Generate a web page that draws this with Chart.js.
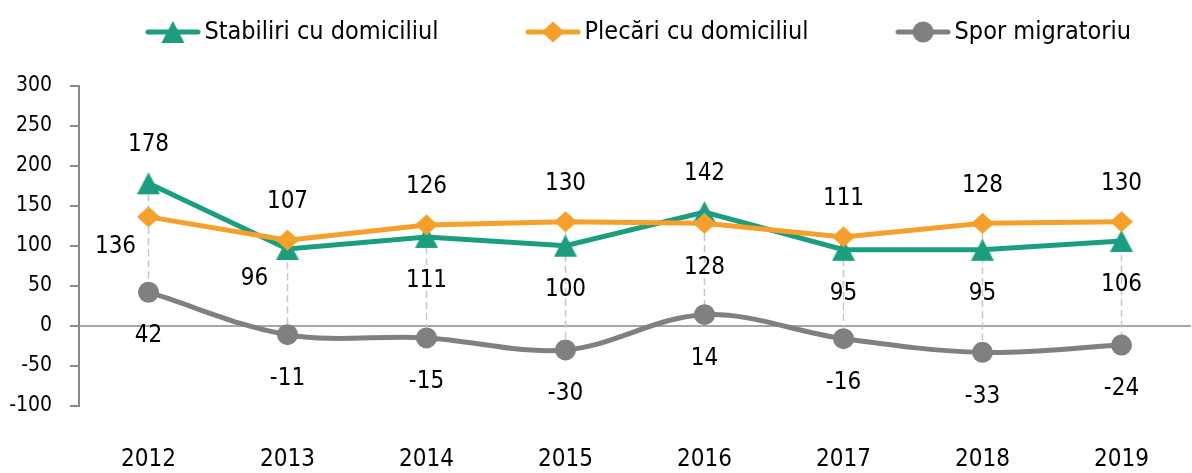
<!DOCTYPE html>
<html lang="ro">
<head>
<meta charset="UTF-8">
<title>Migrația cu domiciliul</title>
<style>
  html, body { margin: 0; padding: 0; background: #fff; overflow: hidden; }
  .wrap { width: 1203px; height: 473px; }
</style>
</head>
<body>
<div class="wrap"><canvas id="chart" width="1203" height="473"></canvas></div>
<script src="https://cdn.jsdelivr.net/npm/chart.js"></script>
<script>
// values
const years = ['2012', '2013', '2014', '2015', '2016', '2017', '2018', '2019'];
const stabiliri = [178, 96, 111, 100, 142, 95, 95, 106];
const plecari = [136, 107, 126, 130, 128, 111, 128, 130];
const spor = [42, -11, -15, -30, 14, -16, -33, -24];
const yMin = -100, yMax = 300, yStep = 50;

// where each value label sits relative to its point
const placeStabiliri = ['up', 'downLeft', 'down', 'down', 'up', 'down', 'down', 'down'];
const placePlecari = ['downLeft', 'up', 'up', 'up', 'down', 'up', 'up', 'up'];
const placeSpor = ['down', 'down', 'down', 'down', 'down', 'down', 'down', 'down'];
const labelOffsets = { up: [0, -38], down: [0, 44], downLeft: [-33, 30] };

const green = '#1b9e80';
const orange = '#f5a02b';
const gray = '#808080';
const FONT = '"DejaVu Sans Condensed", "DejaVu Sans", sans-serif';

// triangle, diamond, circle, each fitted in a box of 2r around the centre
function drawMarker(g, style, x, y, r) {
  g.beginPath();
  if (style === 'triangle') {
    g.moveTo(x, y - r); g.lineTo(x + r * 1.05, y + r); g.lineTo(x - r * 1.05, y + r);
    g.closePath();
  } else if (style === 'diamond') {
    g.moveTo(x, y - r * 0.92); g.lineTo(x + r, y); g.lineTo(x, y + r * 0.92); g.lineTo(x - r, y);
    g.closePath();
  } else {
    g.arc(x, y, r, 0, Math.PI * 2);
  }
  g.fill();
}

function markerImage(color, style, r) {
  const c = document.createElement('canvas');
  c.width = c.height = Math.ceil(2 * r + 4);
  const g = c.getContext('2d');
  g.fillStyle = color;
  drawMarker(g, style, c.width / 2, c.height / 2, r);
  return c;
}

// legend icon: short line with the marker in the middle
function legendIcon(color, style, r) {
  const c = document.createElement('canvas');
  c.width = 140; c.height = 30;
  const g = c.getContext('2d');
  g.strokeStyle = color; g.fillStyle = color;
  g.lineWidth = 5; g.lineCap = 'round';
  g.beginPath(); g.moveTo(86, 15); g.lineTo(136, 15); g.stroke();
  drawMarker(g, style, 111, 15, r);
  return c;
}

const dropLines = {
  id: 'dropLines',
  beforeDatasetsDraw(chart) {
    const ctx = chart.ctx;
    ctx.save();
    ctx.strokeStyle = '#c8c8c8';
    ctx.lineWidth = 1.5;
    ctx.setLineDash([7, 4]);
    chart.data.labels.forEach((_, j) => {
      const pts = chart.data.datasets.map((d, i) => chart.getDatasetMeta(i).data[j]);
      const ys = pts.map(p => p.y);
      ctx.beginPath();
      ctx.moveTo(pts[0].x, Math.min(...ys));
      ctx.lineTo(pts[0].x, Math.max(...ys));
      ctx.stroke();
    });
    ctx.restore();
  }
};

const pointLabels = {
  id: 'pointLabels',
  afterDatasetsDraw(chart) {
    const ctx = chart.ctx;
    ctx.save();
    ctx.font = '24px ' + FONT;
    ctx.fillStyle = '#000';
    ctx.textAlign = 'center';
    ctx.textBaseline = 'middle';
    chart.data.datasets.forEach((ds, i) => {
      chart.getDatasetMeta(i).data.forEach((pt, j) => {
        const off = labelOffsets[ds.labelPlace[j]];
        ctx.fillText(String(ds.data[j]), pt.x + off[0], pt.y + off[1]);
      });
    });
    ctx.restore();
  }
};

const legendGap = {
  id: 'legendGap',
  beforeInit(chart) {
    const fit = chart.legend.fit;
    chart.legend.fit = function () {
      fit.bind(chart.legend)();
      this.height += 31;
    };
  }
};

const icons = [
  legendIcon(green, 'triangle', 11),
  legendIcon(orange, 'diamond', 11.5),
  legendIcon(gray, 'circle', 10.5)
];

new Chart(document.getElementById('chart'), {
  type: 'line',
  data: {
    labels: years,
    datasets: [
      {
        label: 'Stabiliri cu domiciliul', data: stabiliri, labelPlace: placeStabiliri,
        borderColor: green, backgroundColor: green, borderWidth: 5,
        pointStyle: markerImage(green, 'triangle', 11), pointRadius: 12, pointBorderWidth: 0,
        tension: 0, order: 2
      },
      {
        label: 'Plecări cu domiciliul', data: plecari, labelPlace: placePlecari,
        borderColor: orange, backgroundColor: orange, borderWidth: 5,
        pointStyle: markerImage(orange, 'diamond', 11.5), pointRadius: 12, pointBorderWidth: 0,
        tension: 0, order: 1
      },
      {
        label: 'Spor migratoriu', data: spor, labelPlace: placeSpor,
        borderColor: gray, backgroundColor: gray, borderWidth: 5,
        pointStyle: 'circle', pointRadius: 10.5, pointBorderWidth: 0,
        tension: 0.35, order: 0
      }
    ]
  },
  options: {
    responsive: false,
    animation: false,
    layout: { padding: { top: 6, left: 0, right: 0, bottom: 0 } },
    plugins: {
      tooltip: { enabled: false },
      legend: {
        position: 'top',
        labels: {
          usePointStyle: true,
          pointStyleWidth: 120,
          padding: 13.5,
          color: '#000',
          font: { size: 25, family: FONT },
          generateLabels: chart => chart.data.datasets.map((ds, i) => ({
            text: ds.label,
            fillStyle: ds.borderColor,
            strokeStyle: ds.borderColor,
            lineWidth: 0,
            pointStyle: icons[i],
            hidden: false,
            datasetIndex: i
          }))
        }
      }
    },
    scales: {
      x: {
        offset: true,
        afterFit: s => { s.height = 67; },
        grid: { display: false, drawTicks: false },
        border: { display: false },
        ticks: { color: '#000', padding: 42, font: { size: 24, family: FONT, lineHeight: 1 } }
      },
      y: {
        min: yMin,
        max: yMax,
        afterFit: s => { s.width = 79; },
        ticks: { stepSize: yStep, color: '#000', padding: 18, font: { size: 21, family: FONT } },
        grid: {
          color: c => (c.tick && c.tick.value === 0) ? '#a6a6a6' : 'rgba(0,0,0,0)',
          lineWidth: 2,
          tickColor: '#898989',
          tickWidth: 2,
          tickLength: 9
        },
        border: { color: '#898989', width: 2 }
      }
    }
  },
  plugins: [legendGap, dropLines, pointLabels]
});
</script>
</body>
</html>
